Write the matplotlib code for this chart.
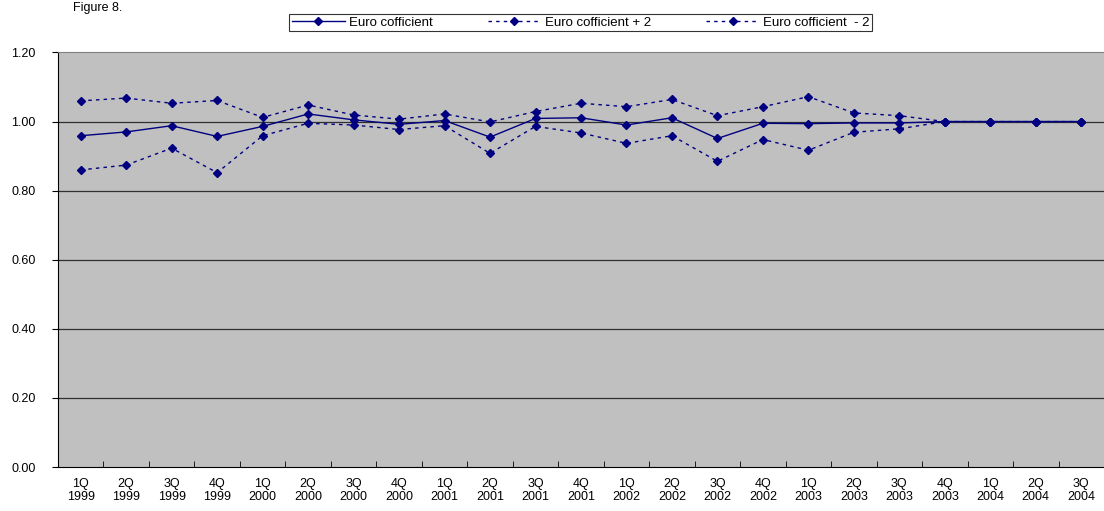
import matplotlib
matplotlib.use("Agg")
from matplotlib import pyplot as plt
import numpy as np

plt.rcParams['font.family'] = ['Liberation Sans', 'DejaVu Sans']

quarters = ['1Q\n1999', '2Q\n1999', '3Q\n1999', '4Q\n1999',
            '1Q\n2000', '2Q\n2000', '3Q\n2000', '4Q\n2000',
            '1Q\n2001', '2Q\n2001', '3Q\n2001', '4Q\n2001',
            '1Q\n2002', '2Q\n2002', '3Q\n2002', '4Q\n2002',
            '1Q\n2003', '2Q\n2003', '3Q\n2003', '4Q\n2003',
            '1Q\n2004', '2Q\n2004', '3Q\n2004']

euro = [0.959, 0.970, 0.988, 0.957, 0.986, 1.022, 1.005, 0.992,
        1.003, 0.955, 1.009, 1.011, 0.990, 1.011, 0.951, 0.995,
        0.994, 0.996, 0.996, 1.000, 1.000, 1.000, 1.000]
euro_plus = [1.060, 1.068, 1.053, 1.061, 1.012, 1.048, 1.019, 1.007,
             1.022, 0.999, 1.029, 1.053, 1.043, 1.064, 1.017, 1.043,
             1.072, 1.025, 1.017, 1.000, 1.000, 1.000, 1.000]
euro_minus = [0.860, 0.874, 0.923, 0.852, 0.959, 0.995, 0.990, 0.977,
              0.988, 0.908, 0.986, 0.967, 0.937, 0.959, 0.885, 0.948,
              0.917, 0.969, 0.979, 1.000, 1.000, 1.000, 1.000]

navy = '#000080'

fig = plt.figure(figsize=(11.04, 5.11), dpi=100)
ax = fig.add_axes([0.0525, 0.0861, 0.9475, 0.8112])
ax.set_facecolor('#c0c0c0')

x = np.arange(len(quarters))
ax.plot(x, euro, color=navy, lw=1, marker='D', ms=4, label='Euro cofficient')
ax.plot(x, euro_plus, color=navy, lw=1, ls=(0, (2.5, 3)), marker='D', ms=4,
        label='Euro cofficient + 2')
ax.plot(x, euro_minus, color=navy, lw=1, ls=(0, (2.5, 3)), marker='D', ms=4,
        label='Euro cofficient  - 2')

ax.set_xlim(-0.5, len(quarters) - 0.5)
ax.set_ylim(0, 1.2)
ax.set_yticks(np.arange(0, 1.21, 0.2))
ax.set_yticklabels([f'{v:.2f}' for v in np.arange(0, 1.21, 0.2)], fontsize=9)
ax.set_xticks(x)
ax.set_xticklabels(quarters, fontsize=9, linespacing=1.15)
ax.set_xticks(np.arange(-0.5, len(quarters), 1), minor=True)
ax.tick_params(axis='x', which='major', length=0, pad=8)
ax.tick_params(axis='x', which='minor', direction='in', length=4, color='black')
ax.tick_params(axis='y', direction='out', length=4, color='black', pad=12)

for v in np.arange(0.2, 1.19, 0.2):
    ax.axhline(v, color='#303030', lw=0.9, zorder=1)

ax.spines['left'].set_color('black')
ax.spines['bottom'].set_color('black')
ax.spines['top'].set_color('#808080')
ax.spines['right'].set_visible(False)

fig.text(0.066, 0.985, 'Figure 8.', fontsize=9, ha='left', va='center')

leg = fig.legend(loc='center', bbox_to_anchor=(0.526, 0.956), ncol=3,
                 fontsize=9.5, frameon=True, fancybox=False, edgecolor='black',
                 handlelength=4, columnspacing=4.2, borderpad=0.2,
                 handletextpad=0.3)
leg.get_frame().set_linewidth(0.8)

fig.savefig('out.png', dpi=100)
